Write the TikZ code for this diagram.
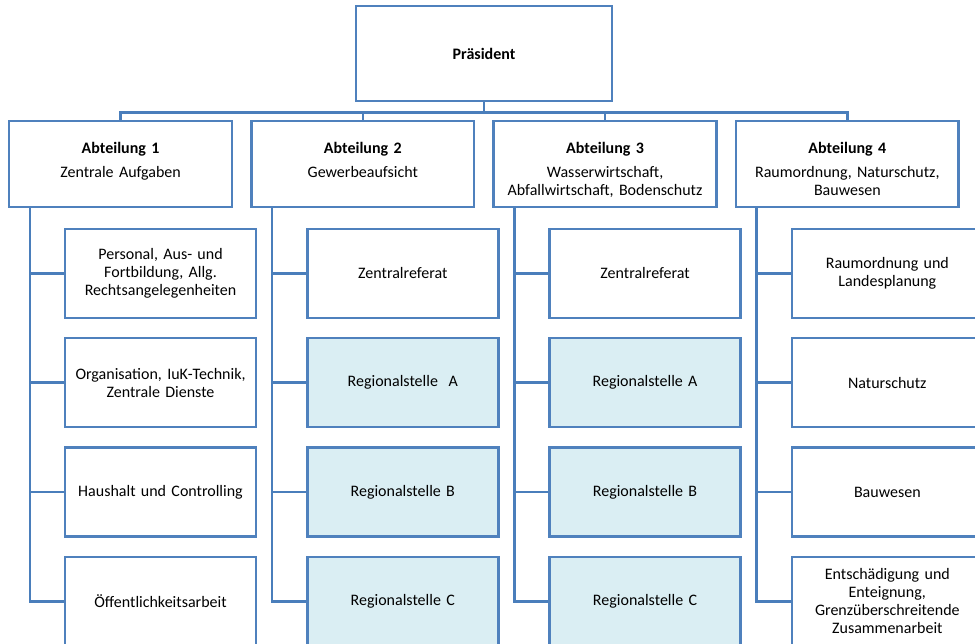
\documentclass[tikz,border=0pt]{standalone}
\usepackage{fontspec}
\setmainfont{Carlito}
\usetikzlibrary{positioning}
\definecolor{rahmen}{HTML}{4F81BD}
\definecolor{linie}{HTML}{4A7EBB}
\definecolor{hellblau}{HTML}{DAEEF3}
\tikzset{
	chef/.style={draw=rahmen, line width=1.9pt, rectangle, minimum width=192pt, minimum height=71.25pt, fill=white},
	abt/.style={draw=rahmen, line width=1.9pt, rectangle, inner xsep=2pt, inner ysep=0pt, text width=163pt, align=center, text height=24.4pt, text depth=40.1pt, fill=white},
	% Referate unter den Abteilungen
	referat/.style={draw=rahmen, line width=1.9pt, rectangle, inner xsep=2pt, minimum width=143.25pt, minimum height=66.75pt, text width=139pt, align=center, fill=white},
	stelle/.style={referat, fill=hellblau},
}

\begin{document}
\begin{tikzpicture}[font=\fontsize{12}{13.5}\selectfont, node distance=82pt]
			\useasboundingbox (0,0) rectangle (731.25pt,-482.25pt);
			\clip (0,0) rectangle (731.25pt,-482.25pt);
			
			\node (praes) [chef] at (363pt,-40.1pt) {\textbf{Präsident}};
			
			\node (a1) [abt] at (90.4pt,-123pt) {\textbf{Abteilung 1}\\[4.5pt] Zentrale Aufgaben};
			\node (a2) [abt, right of=a1, node distance=181.7pt] {\textbf{Abteilung 2}\\[4.5pt] Gewerbeaufsicht};
			\node (a3) [abt, right of=a2, node distance=181.7pt] {\textbf{Abteilung 3}\\[4.5pt] Wasserwirtschaft,\\ Abfallwirtschaft, Bodenschutz};
			\node (a4) [abt, right of=a3, node distance=181.7pt] {\textbf{Abteilung 4}\\[4.5pt] Raumordnung, Naturschutz,\\ Bauwesen};
			
			\node (a1r1) [referat, below of=a1, xshift=30pt] {Personal, Aus- und\\ Fortbildung, Allg.\\ Rechtsangelegenheiten};
			\node (a1r2) [referat, below of=a1r1] {Organisation, IuK-Technik,\\ Zentrale Dienste};
			\node (a1r3) [referat, below of=a1r2] {Haushalt und Controlling};
			\node (a1r4) [referat, below of=a1r3] {Öffentlichkeitsarbeit};
			
			\node (a2r1) [referat, below of=a2, xshift=30pt] {Zentralreferat};
			\node (a2r2) [stelle, below of=a2r1] {Regionalstelle~ A};
			\node (a2r3) [stelle, below of=a2r2] {Regionalstelle B};
			\node (a2r4) [stelle, below of=a2r3] {Regionalstelle C};
			
			\node (a3r1) [referat, below of=a3, xshift=30pt] {Zentralreferat};
			\node (a3r2) [stelle, below of=a3r1] {Regionalstelle A};
			\node (a3r3) [stelle, below of=a3r2] {Regionalstelle B};
			\node (a3r4) [stelle, below of=a3r3] {Regionalstelle C};
			
			\node (a4r1) [referat, below of=a4, xshift=30pt] {Raumordnung und\\ Landesplanung};
			\node (a4r2) [referat, below of=a4r1] {Naturschutz};
			\node (a4r3) [referat, below of=a4r2] {Bauwesen};
			\node (a4r4) [referat, below of=a4r3] {Entschädigung und\\ Enteignung,\\ Grenzüberschreitende\\ Zusammenarbeit};
			
			\begin{scope}[line width=1.9pt, linie]
				\draw (praes.south) -- ++(0,-7.5pt) -| (a1);
				\draw (praes.south) -- ++(0,-7.5pt) -| (a2);
				\draw (praes.south) -- ++(0,-7.5pt) -| (a3);
				\draw (praes.south) -- ++(0,-7.5pt) -| (a4);
				\draw ([xshift=16.5pt]a1.south west) |- (a1r1.west);
				\draw ([xshift=16.5pt]a1.south west) |- (a1r2.west);
				\draw ([xshift=16.5pt]a1.south west) |- (a1r3.west);
				\draw ([xshift=16.5pt]a1.south west) |- (a1r4.west);
				\draw ([xshift=16.5pt]a2.south west) |- (a2r1.west);
				\draw ([xshift=16.5pt]a2.south west) |- (a2r2.west);
				\draw ([xshift=16.5pt]a2.south west) |- (a2r3.west);
				\draw ([xshift=16.5pt]a2.south west) |- (a2r4.west);
				\draw ([xshift=16.5pt]a3.south west) |- (a3r1.west);
				\draw ([xshift=16.5pt]a3.south west) |- (a3r2.west);
				\draw ([xshift=16.5pt]a3.south west) |- (a3r3.west);
				\draw ([xshift=16.5pt]a3.south west) |- (a3r4.west);
				\draw ([xshift=16.5pt]a4.south west) |- (a4r1.west);
				\draw ([xshift=16.5pt]a4.south west) |- (a4r2.west);
				\draw ([xshift=16.5pt]a4.south west) |- (a4r3.west);
				\draw ([xshift=16.5pt]a4.south west) |- (a4r4.west);
			\end{scope}
		\end{tikzpicture}
\end{document}
